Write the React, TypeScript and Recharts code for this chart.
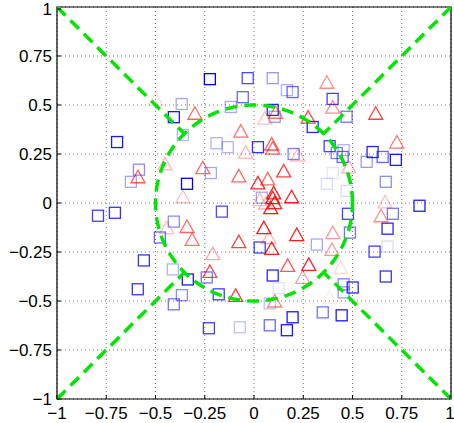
import { ScatterChart, Scatter, XAxis, YAxis, CartesianGrid, ReferenceArea } from 'recharts';

// [x, y, weight] - weight shown as how strong the marker colour is
const BLUE_SQUARES: [number, number, number][] = [
  [-0.224, 0.632, 1], [-0.032, 0.637, 0.7], [0.095, 0.637, 0.4], [-0.057, 0.54, 0.6],
  [-0.118, 0.49, 0.35], [-0.367, 0.505, 0.35], [-0.407, 0.438, 0.9], [-0.361, 0.347, 0.3],
  [-0.695, 0.311, 0.9], [-0.19, 0.305, 0.3], [-0.133, 0.285, 0.3], [0.02, 0.285, 0.8],
  [-0.584, 0.17, 0.45], [-0.625, 0.108, 0.35], [-0.219, 0.153, 0.35], [-0.34, 0.098, 1],
  [-0.792, -0.065, 0.75], [-0.706, -0.05, 0.8], [-0.163, -0.044, 0.7], [-0.407, -0.095, 0.45],
  [-0.478, -0.176, 0.6], [-0.559, -0.293, 0.8], [-0.59, -0.44, 0.8], [-0.412, -0.339, 0.3],
  [-0.336, -0.39, 0.9], [-0.24, -0.38, 0.55], [-0.179, -0.466, 0.75], [-0.366, -0.47, 0.45],
  [-0.407, -0.517, 0.55], [-0.229, -0.639, 0.75], [-0.072, -0.634, 0.25], [0.029, -0.227, 0.75],
  [0.167, 0.576, 0.3], [0.196, 0.566, 0.6], [0.399, 0.531, 0.75], [0.47, 0.44, 0.55],
  [0.095, 0.475, 0.85], [0.105, 0.44, 0.4], [0.298, 0.388, 0.85], [0.201, 0.25, 0.5],
  [0.384, 0.29, 0.75], [0.455, 0.27, 0.3], [0.42, 0.255, 0.5], [0.45, 0.235, 0.6],
  [0.602, 0.26, 0.85], [0.653, 0.235, 0.6], [0.72, 0.22, 0.9], [0.572, 0.21, 0.4],
  [0.4, 0.153, 0.1], [0.37, 0.098, 0.15], [0.669, 0.108, 0.45], [0.47, 0.062, 0.15],
  [0.84, -0.014, 0.9], [0.04, 0.027, 0.35], [0.477, -0.055, 0.75], [0.705, -0.055, 0.55],
  [0.678, -0.131, 0.85], [0.487, -0.151, 0.55], [0.319, -0.212, 0.35], [0.678, -0.222, 0.15],
  [0.612, -0.248, 0.75], [0.095, -0.37, 0.85], [0.669, -0.375, 0.8], [0.125, -0.435, 0.12],
  [0.455, -0.415, 0.5], [0.501, -0.431, 0.85], [0.455, -0.456, 0.4], [0.08, -0.512, 0.25],
  [0.349, -0.558, 0.55], [0.445, -0.573, 0.9], [0.196, -0.583, 0.9], [0.08, -0.624, 0.6],
  [0.167, -0.649, 0.9],
];

const RED_TRIANGLES: [number, number, number][] = [
  [-0.499, 0.529, 0.15], [-0.3, 0.458, 0.6], [-0.067, 0.367, 0.55], [-0.042, 0.26, 0.3],
  [-0.452, 0.2, 0.3], [-0.26, 0.18, 0.6], [-0.589, 0.134, 0.65], [-0.077, 0.138, 0.6],
  [0.02, 0.103, 0.85], [-0.361, 0.032, 0.25], [0.37, 0.616, 0.45], [0.4, 0.489, 0.45],
  [0.618, 0.458, 0.75], [0.11, 0.463, 0.55], [0.055, 0.433, 0.25], [0.275, 0.438, 0.7],
  [0.725, 0.311, 0.55], [0.09, 0.301, 0.65], [0.095, 0.28, 0.6], [0.222, 0.245, 0.25],
  [0.481, 0.184, 0.3], [0.151, 0.164, 0.75], [0.07, 0.123, 0.6], [0.1, 0.052, 0.9],
  [0.191, 0.032, 0.9], [0.665, 0.006, 0.25], [0.029, 0.017, 0.25], [0.06, 0.0, 0.3],
  [0.095, 0.027, 0.9], [0.105, 0.002, 0.85], [0.085, -0.024, 0.9], [0.645, -0.065, 0.45],
  [0.05, -0.126, 0.9], [0.075, -0.176, 0.3], [0.217, -0.161, 0.9], [0.4, -0.151, 0.4],
  [0.09, -0.232, 0.9], [0.396, -0.237, 0.4], [0.44, -0.329, 0.15], [0.171, -0.318, 0.65],
  [0.278, -0.313, 0.85], [0.247, -0.379, 0.4], [0.384, -0.48, 0.08], [0.105, -0.5, 0.5],
  [-0.443, -0.126, 0.25], [-0.34, -0.12, 0.6], [-0.314, -0.186, 0.55], [-0.077, -0.197, 0.75],
  [-0.209, -0.258, 0.35], [-0.224, -0.349, 0.7], [-0.093, -0.471, 0.75],
];

const TICKS = [-1, -0.75, -0.5, -0.25, 0, 0.25, 0.5, 0.75, 1];

// boundary: circle of radius 0.5 plus diagonals from the corners to the circle
const CIRCLE_R = 0.5;
const DIAG_END = CIRCLE_R / Math.SQRT2;
const DIAGONALS = [
  [{ x: -1, y: 1 }, { x: -DIAG_END, y: DIAG_END }],
  [{ x: 1, y: 1 }, { x: DIAG_END, y: DIAG_END }],
  [{ x: -1, y: -1 }, { x: -DIAG_END, y: -DIAG_END }],
  [{ x: 1, y: -1 }, { x: DIAG_END, y: -DIAG_END }],
];

const circlePts = Array.from({ length: 181 }, (_, i) => {
  const a = (i / 180) * Math.PI * 2;
  return { x: CIRCLE_R * Math.cos(a), y: CIRCLE_R * Math.sin(a) };
});

const squares = BLUE_SQUARES.map(([x, y, w]) => ({ x, y, w }));
const triangles = RED_TRIANGLES.map(([x, y, w]) => ({ x, y, w }));

const GREEN = '#00e600';
const boundaryLine = { stroke: GREEN, strokeWidth: 3.5, strokeDasharray: '12 7' };

const fmt = (v: number) => (v < 0 ? '\u2212' + Math.abs(v) : String(v));

const FONT = '"Liberation Sans", Arial, sans-serif';
const TICK_LEN = 4;

function SquareShape(props: any) {
  const { cx, cy, payload } = props;
  const s = 5.5;
  return (
    <rect x={cx - s} y={cy - s} width={s * 2} height={s * 2} fill="none"
      stroke="#0000ff" strokeOpacity={payload.w} strokeWidth={1.3} />
  );
}

function TriangleShape(props: any) {
  const { cx, cy, payload } = props;
  const d = `M${cx},${cy - 6.5} L${cx + 7},${cy + 6} L${cx - 7},${cy + 6} Z`;
  return <path d={d} fill="none" stroke="#ff0000" strokeOpacity={payload.w} strokeWidth={1.3} />;
}

// bottom labels with a short tick pointing into the plot
function XTick(props: any) {
  const { x, y, payload } = props;
  const axisY = y - 8;
  return (
    <g>
      <line x1={x} x2={x} y1={axisY} y2={axisY - TICK_LEN} stroke="#000" />
      <text x={x} y={y} dy="0.71em" textAnchor="middle" fill="#000" fontSize={17} fontFamily={FONT}>
        {fmt(payload.value)}
      </text>
    </g>
  );
}

function YTick(props: any) {
  const { x, y, payload } = props;
  const axisX = x + 5;
  return (
    <g>
      <line x1={axisX} x2={axisX + TICK_LEN} y1={y} y2={y} stroke="#000" />
      <text x={x} y={y} dy="0.355em" textAnchor="end" fill="#000" fontSize={17} fontFamily={FONT}>
        {fmt(payload.value)}
      </text>
    </g>
  );
}

const noDot = () => <g />;

export default function App() {
  return (
    <div style={{ position: 'absolute', left: 0, top: 0, background: '#fff' }}>
      <ScatterChart width={454} height={423} margin={{ top: 7, right: 3, bottom: 0, left: 0 }}>
        <CartesianGrid stroke="#777" strokeDasharray="1 3" />
        <XAxis type="number" dataKey="x" domain={[-1, 1]} ticks={TICKS} height={24}
          tick={<XTick />} tickLine={false} axisLine={false}
          tickSize={0} tickMargin={8} allowDataOverflow />
        <YAxis type="number" dataKey="y" domain={[-1, 1]} ticks={TICKS} width={57}
          tick={<YTick />} tickLine={false} axisLine={false}
          tickSize={0} tickMargin={5} allowDataOverflow />
        <XAxis xAxisId="top" orientation="top" type="number" domain={[-1, 1]} ticks={TICKS}
          height={0} mirror tick={false} axisLine={false} tickSize={TICK_LEN}
          tickLine={{ stroke: '#000' }} allowDataOverflow />
        <YAxis yAxisId="right" orientation="right" type="number" domain={[-1, 1]} ticks={TICKS}
          width={0} mirror tick={false} axisLine={false} tickSize={TICK_LEN}
          tickLine={{ stroke: '#000' }} allowDataOverflow />
        <ReferenceArea x1={-1} x2={1} y1={-1} y2={1} fill="none" stroke="#000" strokeWidth={1.2} />
        <Scatter data={squares} shape={SquareShape} isAnimationActive={false} />
        <Scatter data={triangles} shape={TriangleShape} isAnimationActive={false} />
        <Scatter data={circlePts} line={boundaryLine} lineType="joint" shape={noDot} isAnimationActive={false} />
        {DIAGONALS.map((seg, i) => (
          <Scatter key={i} data={seg} line={boundaryLine} lineType="joint" shape={noDot} isAnimationActive={false} />
        ))}
      </ScatterChart>
    </div>
  );
}
